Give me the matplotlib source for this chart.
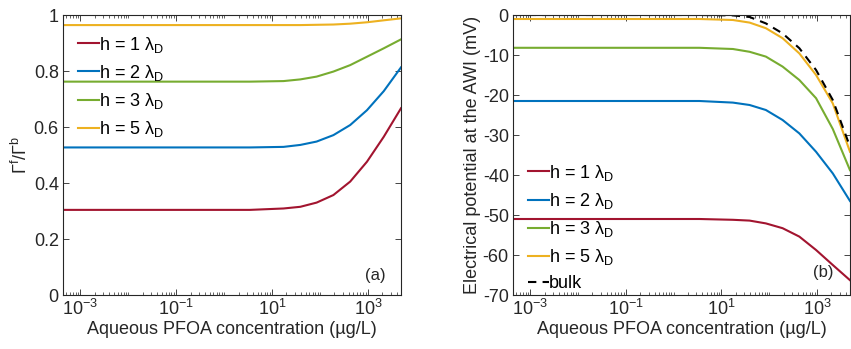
import numpy as np
import matplotlib
matplotlib.use("Agg")
import matplotlib.pyplot as plt
from matplotlib.ticker import LogLocator, FixedLocator, NullFormatter, FixedFormatter

plt.rcParams['font.family'] = ['Liberation Sans', 'DejaVu Sans']
plt.rcParams['mathtext.fontset'] = 'custom'
plt.rcParams['mathtext.rm'] = 'Liberation Sans'
plt.rcParams['mathtext.it'] = 'Liberation Sans:italic'
plt.rcParams['mathtext.bf'] = 'Liberation Sans:bold'
plt.rcParams['axes.unicode_minus'] = False

# concentration sample points (log10 of µg/L)
log_conc = [-3.36, 0.54, 1.24, 1.59, 1.93, 2.28, 2.63, 2.98, 3.33, 3.69]

# panel (a): Gamma^f / Gamma^b
ratio_h1 = [0.304, 0.304, 0.309, 0.315, 0.330, 0.357, 0.405, 0.476, 0.565, 0.667]
ratio_h2 = [0.527, 0.527, 0.529, 0.536, 0.548, 0.571, 0.607, 0.660, 0.728, 0.813]
ratio_h3 = [0.762, 0.762, 0.764, 0.770, 0.780, 0.798, 0.821, 0.851, 0.881, 0.913]
ratio_h5 = [0.964, 0.964, 0.964, 0.964, 0.965, 0.966, 0.969, 0.974, 0.981, 0.988]

# panel (b): electrical potential at AWI (mV)
pot_h1 = [-51.0, -51.0, -51.2, -51.4, -52.1, -53.3, -55.4, -58.75, -62.5, -66.3]
pot_h2 = [-21.5, -21.5, -21.9, -22.5, -23.75, -26.25, -29.6, -34.2, -39.6, -46.5]
pot_h3 = [-8.2, -8.2, -8.5, -9.2, -10.4, -12.9, -16.25, -20.8, -28.5, -38.8]
pot_h5 = [-1.0, -1.0, -1.25, -1.9, -3.3, -5.8, -9.6, -15.0, -22.1, -34.2]
pot_bulk = [0.0, 0.0, -0.1, -0.5, -2.1, -4.6, -8.3, -13.75, -21.25, -32.9]

labels = ['h = 1 λ$_{\\mathrm{D}}$', 'h = 2 λ$_{\\mathrm{D}}$',
          'h = 3 λ$_{\\mathrm{D}}$', 'h = 5 λ$_{\\mathrm{D}}$']
colors = ['#A2142F', '#0072BD', '#77AC30', '#EDB120']

conc = [10 ** v for v in log_conc]

fig = plt.figure(figsize=(8.51, 3.49), dpi=100)
axA = fig.add_axes([63 / 851, 1 - 295 / 349, (401 - 63) / 851, 280 / 349])
axB = fig.add_axes([513 / 851, 1 - 295 / 349, (850 - 513) / 851, 280 / 349])

FS = 13
TC = '#262626'

def style(ax):
    ax.set_xscale('log')
    ax.set_xlim(10 ** -3.36, 10 ** 3.69)
    ax.xaxis.set_major_locator(FixedLocator([1e-3, 1e-1, 1e1, 1e3]))
    ax.xaxis.set_major_formatter(FixedFormatter(['$\\mathrm{10^{-3}}$', '$\\mathrm{10^{-1}}$',
                                                 '$\\mathrm{10^{1}}$', '$\\mathrm{10^{3}}$']))
    ax.xaxis.set_minor_locator(LogLocator(base=10, subs=np.arange(1, 10), numticks=50))
    ax.xaxis.set_minor_formatter(NullFormatter())
    ax.tick_params(which='both', direction='in', top=True, right=True, labelsize=FS, colors=TC)
    ax.tick_params(which='major', length=4, width=0.6, pad=3)
    ax.tick_params(which='minor', length=2.2, width=0.5)
    for s in ax.spines.values():
        s.set_linewidth(0.8)
        s.set_color(TC)
    ax.set_xlabel('Aqueous PFOA concentration (µg/L)', fontsize=FS, color=TC, labelpad=1)

for ys, c, lab in zip([ratio_h1, ratio_h2, ratio_h3, ratio_h5], colors, labels):
    axA.plot(conc, ys, color=c, lw=1.5, label=lab)
style(axA)
axA.set_ylim(0, 1)
axA.set_yticks([0, 0.2, 0.4, 0.6, 0.8, 1])
axA.set_yticklabels(['0', '0.2', '0.4', '0.6', '0.8', '1'])
axA.set_ylabel('$\\mathrm{\\Gamma^f/\\Gamma^b}$', fontsize=FS, color=TC, labelpad=2)
axA.legend(loc='upper left', bbox_to_anchor=(0.045, 0.93), frameon=False, fontsize=FS,
           handlelength=1.15, handletextpad=0.0, labelspacing=0.45, borderaxespad=0.0,
           borderpad=0.0)
axA.text(0.925, 0.07, '(a)', transform=axA.transAxes, fontsize=FS - 1, ha='center', va='center',
         color=TC)

for ys, c, lab in zip([pot_h1, pot_h2, pot_h3, pot_h5], colors, labels):
    axB.plot(conc, ys, color=c, lw=1.5, label=lab)
axB.plot(conc, pot_bulk, color='black', lw=1.5, ls=(0, (4, 3)), label='bulk')
style(axB)
axB.set_ylim(-70, 0)
axB.set_yticks(np.arange(-70, 1, 10))
axB.set_ylabel('Electrical potential at the AWI (mV)', fontsize=FS, color=TC, labelpad=1)
axB.legend(loc='lower left', bbox_to_anchor=(0.045, 0.01), frameon=False, fontsize=FS,
           handlelength=1.15, handletextpad=0.0, labelspacing=0.45, borderaxespad=0.0,
           borderpad=0.0)
axB.text(0.92, 0.08, '(b)', transform=axB.transAxes, fontsize=FS - 1, ha='center', va='center',
         color=TC)

fig.savefig('out.png', dpi=100)
